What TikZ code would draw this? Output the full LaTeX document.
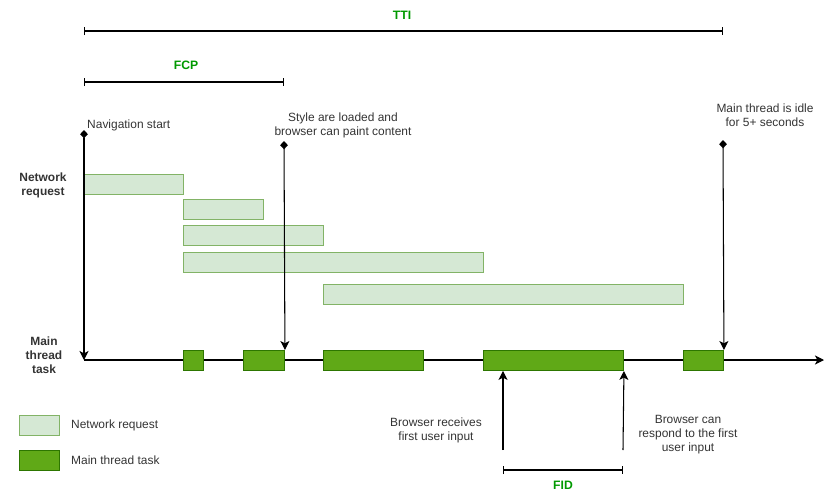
\documentclass[tikz,border=0pt]{standalone}
\usepackage{fontspec}
\setmainfont{Liberation Sans}
\usepackage{xcolor}
\usetikzlibrary{arrows.meta,positioning}

\definecolor{reqfill}{HTML}{D5E8D4}
\definecolor{reqline}{HTML}{82B366}
\definecolor{taskfill}{HTML}{60A917}
\definecolor{taskline}{HTML}{2D7600}
\definecolor{metricgreen}{HTML}{009900}
\definecolor{textgray}{HTML}{333333}

\begin{document}
\begin{tikzpicture}[
    x=0.03cm, y=-0.03cm,
    txt/.style={font=\fontsize{10.2}{11.9}\selectfont, text=textgray, align=center, inner sep=0pt},
    rowlbl/.style={txt, font=\fontsize{10.2}{11.9}\selectfont\bfseries},
    metric/.style={font=\fontsize{10.4}{11.9}\selectfont\bfseries, text=metricgreen, inner sep=0pt},
    req/.style={draw=reqline, fill=reqfill, line width=0.8pt, anchor=north west, inner sep=0pt, minimum height=0.6cm},
    task/.style={draw=taskline, fill=taskfill, line width=0.8pt, anchor=north west, inner sep=0pt, minimum height=0.6cm},
    arr/.style={-{Stealth[length=2.7mm, width=2.7mm, inset=0.7mm]}, line width=0.9pt},
    eventline/.style={{Diamond[length=2.5mm, width=2.3mm]}-{Stealth[length=2.7mm, width=2.7mm, inset=0.7mm]}, line width=0.9pt},
    span/.style={{Bar[width=2.4mm]}-{Bar[width=2.4mm]}, line width=0.9pt},
]
\useasboundingbox (0,0) rectangle (832,500);

% metric spans
\coordinate (ttil) at (84,31);
\coordinate (ttir) at (723,31);
\draw[span] (ttil) -- (ttir);
\node[metric] (tti) at (402,15) {TTI};
\coordinate (fcpl) at (84,82);
\coordinate (fcpr) at (284,82);
\draw[span] (fcpl) -- (fcpr);
\node[metric] (fcp) at (186,65) {FCP};

% network requests
\node[req, minimum width=2.97cm] (req1) at (84,174) {};
\node[req, minimum width=2.4cm] (req2) at (183,199) {};
\node[req, minimum width=4.2cm] (req3) at (183,225) {};
\node[req, minimum width=9cm] (req4) at (183,252) {};
\node[req, minimum width=10.8cm] (req5) at (323,284) {};

% main thread axis
\coordinate (axisstart) at (84,360);
\coordinate (axisend) at (824,360);
\draw[arr] (axisstart) -- (axisend);

% main thread tasks
\node[task, minimum width=0.6cm] (task1) at (183,350) {};
\node[task, minimum width=1.23cm] (task2) at (243,350) {};
\node[task, minimum width=3cm] (task3) at (323,350) {};
\node[task, minimum width=4.2cm] (task4) at (483,350) {};
\node[task, minimum width=1.2cm] (task5) at (683,350) {};

% row labels
\node[rowlbl] (netlbl) at (43,185) {Network\\request};
\node[rowlbl] (mainlbl) at (44,355) {Main\\thread\\task};

% events
\coordinate (navtop) at (84,130);
\draw[eventline] (navtop) -- (axisstart);
\node[txt, anchor=west] (navlbl) at (87,125) {Navigation start};
\coordinate (styletop) at (284,141);
\draw[eventline] (styletop) -- (task2.north east);
\node[txt] (stylelbl) at (343,125) {Style are loaded and\\browser can paint content};
\coordinate (idletop) at (723,140);
\draw[eventline] (idletop) -- (task5.north east);
\node[txt] (idlelbl) at (765,115) {Main thread is idle\\for 5+ seconds};

% first input
\coordinate (inputlow) at (503,450);
\draw[arr] (inputlow) -- (inputlow |- task4.south);
\node[txt] (inputlbl) at (436,430) {Browser receives\\first user input};
\coordinate (replow) at (623,450);
\draw[arr] (replow) -- (task4.south east);
\node[txt] (replbl) at (688,435) {Browser can\\respond to the first\\user input};
\coordinate (fidl) at (503,470);
\coordinate (fidr) at (623,470);
\draw[span] (fidl) -- (fidr);
\node[metric] (fid) at (563,485) {FID};

% legend
\node[req, minimum width=1.2cm] (legreq) at (19,415) {};
\node[txt, right=0.33cm of legreq] (legreqlbl) {Network request};
\node[task, minimum width=1.2cm] (legtask) at (19,450) {};
\node[txt, right=0.33cm of legtask] (legtasklbl) {Main thread task};
\end{tikzpicture}
\end{document}
